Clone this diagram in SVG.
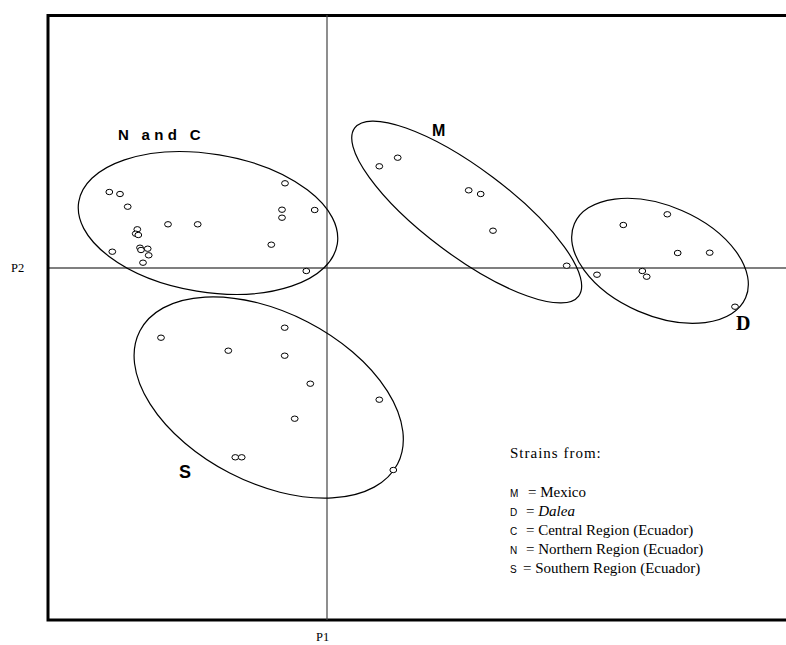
<svg xmlns="http://www.w3.org/2000/svg" width="786" height="645" viewBox="0 0 786 645">
<style>
.pt{fill:#fff;stroke:#000;stroke-width:1}
.hull{fill:none;stroke:#000;stroke-width:1.2}
.axis{stroke:#000;stroke-width:1.2;fill:none}
.lbl{font-family:"Liberation Sans",Arial,sans-serif;font-weight:bold;fill:#000}
.ser{font-family:"Liberation Serif","Times New Roman",serif;fill:#000;font-size:15px}
.key{font-family:"Liberation Sans",Arial,sans-serif;fill:#000;font-size:10px}
</style>
<defs>
<ellipse id="p" class="pt" rx="3.4" ry="2.7"/>
</defs>
<rect width="786" height="645" fill="#fff"/>
<g id="frame">
<path d="M786,15.5 H48 V620 H786" fill="none" stroke="#000" stroke-width="3"/>
<line class="axis" x1="48" y1="268" x2="786" y2="268"/>
<line x1="327" y1="15" x2="327" y2="620" stroke="#444" stroke-width="1.2"/>
<text class="ser" x="11" y="272" style="font-size:12.5px">P2</text>
<text class="ser" x="316" y="641" style="font-size:12.5px">P1</text>
</g>
<g id="nc">
<ellipse class="hull" cx="208" cy="223" rx="131" ry="69" transform="rotate(9.3 208 223)"/>
<text class="lbl" x="118" y="140" font-size="15" letter-spacing="4.3">N and C</text>
<use href="#p" x="109.3" y="192"/><use href="#p" x="120" y="194"/><use href="#p" x="127.7" y="206.7"/>
<use href="#p" x="285" y="183.3"/><use href="#p" x="282" y="209.7"/><use href="#p" x="282" y="217.7"/>
<use href="#p" x="314.7" y="210"/><use href="#p" x="168" y="224.3"/><use href="#p" x="197.7" y="224.3"/>
<use href="#p" x="137.3" y="229.3"/><use href="#p" x="135.7" y="233.7"/><use href="#p" x="138.3" y="235"/>
<use href="#p" x="112.3" y="251.7"/><use href="#p" x="140" y="247.7"/><use href="#p" x="141" y="250"/>
<use href="#p" x="147.7" y="248.7"/><use href="#p" x="148.7" y="255.3"/><use href="#p" x="143" y="262.7"/>
<use href="#p" x="271.3" y="244.7"/><use href="#p" x="306.3" y="271"/>
</g>
<g id="m">
<ellipse class="hull" cx="466.7" cy="212" rx="140" ry="43.5" transform="rotate(36.9 466.7 212)"/>
<text class="lbl" x="432" y="136" font-size="16">M</text>
<use href="#p" x="379.3" y="166.3"/><use href="#p" x="397.7" y="157.7"/><use href="#p" x="468.7" y="190.3"/>
<use href="#p" x="480.7" y="194"/><use href="#p" x="493" y="230.7"/><use href="#p" x="566.7" y="265.7"/>
</g>
<g id="d">
<ellipse class="hull" cx="660" cy="260.8" rx="93.3" ry="54.8" transform="rotate(23.4 660 260.8)"/>
<text x="736" y="330" font-family="'Liberation Serif','Times New Roman',serif" font-weight="bold" font-size="20">D</text>
<use href="#p" x="623.3" y="225"/><use href="#p" x="667.3" y="214.3"/><use href="#p" x="677.7" y="253"/>
<use href="#p" x="709.7" y="252.7"/><use href="#p" x="597" y="274.7"/><use href="#p" x="642.3" y="271"/>
<use href="#p" x="646.7" y="276.7"/><use href="#p" x="735" y="306.7"/>
</g>
<g id="s">
<ellipse class="hull" cx="268.7" cy="397.5" rx="145" ry="85" transform="rotate(27.3 268.7 397.5)"/>
<text class="lbl" x="179" y="478" font-size="18">S</text>
<use href="#p" x="161" y="337.7"/><use href="#p" x="228.3" y="350.7"/><use href="#p" x="284.7" y="327.7"/>
<use href="#p" x="284.7" y="355.7"/><use href="#p" x="310.3" y="383.7"/><use href="#p" x="294.7" y="418.7"/>
<use href="#p" x="379.3" y="399.7"/><use href="#p" x="235.3" y="457.3"/><use href="#p" x="241.7" y="457.3"/>
<use href="#p" x="393.3" y="470"/>
</g>
<g id="legend">
<text class="ser" x="510" y="458" letter-spacing="1">Strains from:</text>
<text class="key" x="510" y="497">M</text><text class="ser" x="528" y="497">= Mexico</text>
<text class="key" x="510" y="516">D</text><text class="ser" x="526" y="516">= <tspan font-style="italic">Dalea</tspan></text>
<text class="key" x="510" y="535">C</text><text class="ser" x="526" y="535">= Central Region (Ecuador)</text>
<text class="key" x="510" y="554">N</text><text class="ser" x="526" y="554">= Northern Region (Ecuador)</text>
<text class="key" x="510" y="573">S</text><text class="ser" x="523" y="573">= Southern Region (Ecuador)</text>
</g>
</svg>
